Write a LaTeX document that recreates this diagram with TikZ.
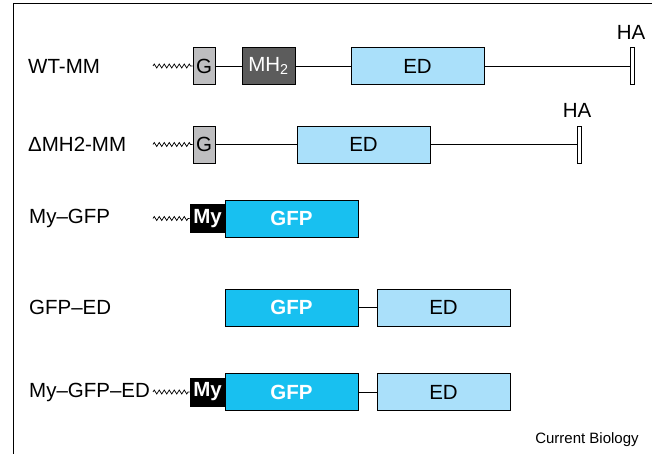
\documentclass[tikz,border=0pt]{standalone}
\usepackage{fontspec}
\setmainfont{Liberation Sans}
\usetikzlibrary{decorations.pathmorphing}

\definecolor{gcol}{RGB}{190,190,192}
\definecolor{mhcol}{RGB}{92,92,92}
\definecolor{edcol}{RGB}{170,224,250}
\definecolor{gfpcol}{RGB}{24,192,240}

\begin{document}
\begin{tikzpicture}[x=1pt, y=-1pt,
    box/.style={draw, line width=0.8pt, inner sep=0pt, minimum height=37pt, font=\fontsize{20.5}{24}\selectfont},
    gbox/.style={box, fill=gcol, minimum width=22pt},
    mhbox/.style={box, fill=mhcol, text=white, minimum width=53pt},
    edbox/.style={box, fill=edcol, minimum width=133pt},
    gfpbox/.style={box, fill=gfpcol, text=white, minimum width=133pt, font=\fontsize{20.5}{24}\selectfont\bfseries},
    mybox/.style={box, fill=black, text=white, minimum width=35pt, minimum height=28pt, font=\fontsize{20.5}{24}\selectfont\bfseries},
    habar/.style={draw, fill=white, line width=0.8pt, minimum width=4pt, minimum height=37pt, inner sep=0pt},
    rowname/.style={anchor=west, inner sep=0pt, font=\fontsize{20.5}{24}\selectfont},
    wavy/.style={line width=0.7pt, decorate, decoration={zigzag, segment length=5pt, amplitude=2pt}}
  ]
    \useasboundingbox (0,0) rectangle (652,454);

    % 枠
    \draw[line width=1pt] (13,454) -- (13,4) -- (652,4);

    % WT-MM
    \node[rowname] (n1) at (28, 66) {WT-MM};
    \node[gbox] (g1) at (204, 66) {G};
    \node[mhbox] (mh1) at (268.5, 66) {MH\textsubscript{2}};
    \node[edbox] (ed1) at (417.5, 66) {ED};
    \node[habar] (ha1) at (632, 66) {};
    \node[font=\fontsize{20.5}{24}\selectfont] (hal1) at (631, 32) {HA};
    \coordinate (w1) at (153, 66);

    % ΔMH2-MM
    \node[rowname] (n2) at (28, 144.5) {ΔMH2-MM};
    \node[gbox] (g2) at (204, 144.5) {G};
    \node[edbox] (ed2) at (363.5, 144.5) {ED};
    \node[habar] (ha2) at (579, 144.5) {};
    \node[font=\fontsize{20.5}{24}\selectfont] (hal2) at (577, 110) {HA};
    \coordinate (w2) at (153, 144.5);

    % My–GFP
    \node[rowname] (n3) at (29, 218.5) {My–GFP};
    \node[mybox] (my3) at (207.5, 218.5) {My};
    \node[gfpbox] (gfp3) at (291.5, 218.5) {GFP};
    \coordinate (w3) at (153, 218.5);

    % GFP–ED
    \node[rowname] (n4) at (29, 307.5) {GFP–ED};
    \node[gfpbox] (gfp4) at (291.5, 307.5) {GFP};
    \node[edbox] (ed4) at (443.5, 307.5) {ED};

    % My–GFP–ED
    \node[rowname] (n5) at (29, 392) {My–GFP–ED};
    \node[mybox] (my5) at (207.5, 392) {My};
    \node[gfpbox] (gfp5) at (291.5, 392) {GFP};
    \node[edbox] (ed5) at (443.5, 392) {ED};
    \coordinate (w5) at (153, 392);

    \node[font=\fontsize{15}{18}\selectfont] (src) at (587, 440) {Current Biology};

    % 線
    \draw[wavy] (w1) -- (g1.west);
    \draw (g1) -- (mh1);
    \draw (mh1) -- (ed1);
    \draw (ed1) -- (ha1);
    \draw[wavy] (w2) -- (g2.west);
    \draw (g2) -- (ed2);
    \draw (ed2) -- (ha2);
    \draw[wavy] (w3) -- (my3.west);
    \draw (gfp4) -- (ed4);
    \draw[wavy] (w5) -- (my5.west);
    \draw (gfp5) -- (ed5);
\end{tikzpicture}
\end{document}
